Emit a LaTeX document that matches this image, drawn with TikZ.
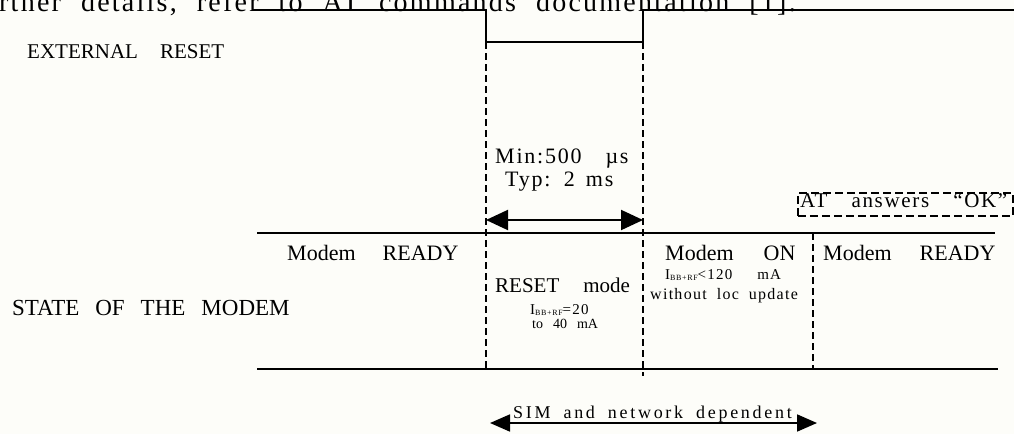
\documentclass[tikz,border=0pt]{standalone}
\usepackage{fontspec}
\setmainfont{Liberation Serif}
\newfontfamily\lsfont[LetterSpace=8]{Liberation Serif}
\newfontfamily\lswide[LetterSpace=15]{Liberation Serif}
\usetikzlibrary{arrows.meta}
\definecolor{paper}{RGB}{253,253,249}
\newcommand{\fs}[1]{\fontsize{#1}{#1}\selectfont}
\newcommand{\sbs}[1]{\raisebox{-1pt}{\fs{8}#1}}
\tikzset{
  txt/.style={inner sep=0pt, anchor=base west},
  gap/.style={execute at begin node={\spaceskip=#1\relax}},
  sig/.style={line width=1.8pt, line join=miter},
  rule/.style={line width=1.8pt},
  guide/.style={line width=1.3pt, dash pattern=on 7pt off 4pt},
  atbox/.style={line width=1.8pt, dash pattern=on 8pt off 4pt},
  span/.style={line width=2pt, {Triangle[length=22pt,width=20pt]}-{Triangle[length=22pt,width=20pt]}},
  spanb/.style={line width=1.8pt, {Triangle[length=20pt,width=17pt]}-{Triangle[length=20pt,width=17pt]}},
}
\begin{document}
\begin{tikzpicture}[x=1pt,y=-1pt]
\useasboundingbox (0,0) rectangle (1014,434);
\clip (0,0) rectangle (1014,434);
\fill[paper] (0,0) rectangle (1014,434);

% running text of the page above the figure
\node[txt, gap=20pt, font=\lsfont\fs{28}] (head) at (-1,11) {rther details, refer to AT commands documentation [1].};

% external reset signal
\coordinate (r0) at (253,10);
\coordinate (r1) at (486,10);
\coordinate (r2) at (486,42);
\coordinate (r3) at (643,42);
\coordinate (r4) at (643,10);
\coordinate (r5) at (1020,10);
\draw[sig] (r0) -- (r1) -- (r2) -- (r3) -- (r4) -- (r5);

% state band
\coordinate (s0) at (257,233);
\coordinate (s1) at (995,233);
\coordinate (b0) at (257,369);
\coordinate (b1) at (998,369);
\draw[rule] (s0) -- (s1);
\draw[rule] (b0) -- (b1);

% timing guides
\coordinate (g1b) at (486,371);
\coordinate (g2b) at (643,376);
\coordinate (g3t) at (813,233);
\coordinate (g3b) at (813,369);
\draw[guide] (r2) -- (g1b);
\draw[guide] (r3) -- (g2b);
\draw[guide] (g3t) -- (g3b);

% reset pulse width
\coordinate (a1) at (486,220);
\coordinate (a2) at (643,220);
\draw[span] (a1) -- (a2);

% SIM / network dependent duration
\coordinate (c1) at (490,423);
\coordinate (c2) at (817,423);
\draw[spanb] (c1) -- (c2);

% AT answer box
\node[atbox, draw, inner sep=0pt, minimum width=215pt, minimum height=23pt, anchor=north west] (ok) at (797,192) {};

% labels
\node[txt, gap=22pt, font=\fs{21}] (ext) at (27,58) {EXTERNAL RESET};
\node[txt, gap=16pt, font=\fs{23}] (state) at (12,315) {STATE OF THE MODEM};
\node[txt, gap=27pt, font=\fs{22}] (rdy1) at (287,260) {Modem READY};
\node[txt, gap=28pt, font=\fs{22}] (rdy2) at (823,260) {Modem READY};
\node[txt, gap=30pt, font=\fs{22}] (on) at (665,260) {Modem ON};
\node[txt, gap=24pt, font=\fs{21}] (rst) at (495,292) {RESET mode};
\node[txt, font=\lsfont\fs{15}] (i1) at (530,314) {I\sbs{BB+RF}=20};
\node[txt, gap=10pt, font=\fs{14}] (i2) at (532,328) {to 40 mA};
\node[txt, gap=25pt, font=\lsfont\fs{15}] (i3) at (665,279) {I\sbs{BB+RF}<120 mA};
\node[txt, gap=10pt, font=\lsfont\fs{16}] (i4) at (650,299) {without loc update};
\node[txt, gap=24pt, font=\lsfont\fs{22}] (min) at (495,163) {Min:500 µs};
\node[txt, gap=11pt, font=\lsfont\fs{22}] (typ) at (505,186) {Typ: 2 ms};
\node[txt, gap=24pt, font=\lsfont\fs{21}] (ans) at (800,207) {AT answers “OK”};
\node[txt, gap=13pt, font=\lswide\fs{18}] (sim) at (513,418) {SIM and network dependent};
\end{tikzpicture}
\end{document}
